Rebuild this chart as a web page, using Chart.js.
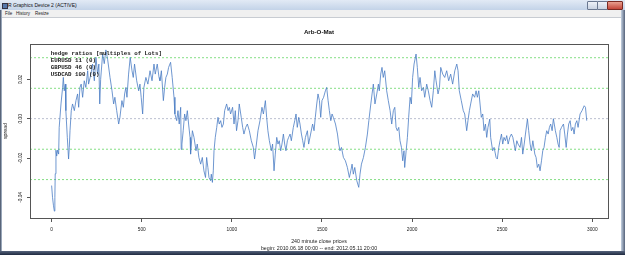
<!DOCTYPE html>
<html><head><meta charset="utf-8">
<script src="https://cdn.jsdelivr.net/npm/chart.js@4/dist/chart.umd.min.js"></script>
<style>
html,body{margin:0;padding:0;background:#fff;}
#wrap{position:relative;width:625px;height:255px;overflow:hidden;background:#fff;font-family:'Liberation Sans',Arial,sans-serif;}
#c{position:absolute;left:0;top:0;}
.tb{position:absolute;left:0;top:0;width:625px;height:10px;background:linear-gradient(#e2eaf5,#c3d3e8);}
.tbt{position:absolute;left:8px;top:2px;font-size:5px;line-height:6px;color:#111;white-space:nowrap;}
.ico{position:absolute;left:2px;top:3px;width:4px;height:4px;background:#5577aa;border:1px solid #334;}
.btn{position:absolute;top:1px;height:7px;border:1px solid #6a7890;border-radius:1px;background:linear-gradient(#eef2f8,#c9d3e2);}
.mb{position:absolute;left:0;top:10px;width:625px;height:7px;background:#f0f0f0;border-bottom:1px solid #c8ccd2;}
.mbt{position:absolute;top:1px;font-size:4.5px;line-height:5px;color:#222;}
.lb{position:absolute;left:0;top:10px;width:2px;height:245px;background:linear-gradient(90deg,#39455a,#b8c6d8);}
.rb{position:absolute;right:0;top:10px;width:4px;height:245px;background:linear-gradient(90deg,#c5d2e2,#55627a);}
.bb{position:absolute;left:0;top:251px;width:625px;height:4px;background:linear-gradient(#56637c,#1f2a40);}
</style></head>
<body>
<div id="wrap">
<canvas id="c" width="625" height="255"></canvas>
<div class="tb"><div class="ico"></div><div class="tbt">R Graphics Device 2 (ACTIVE)</div>
<div class="btn" style="left:587px;width:9px"></div><div class="btn" style="left:597px;width:9px"></div>
<div class="btn" style="left:607px;width:14px;background:linear-gradient(#e8a090,#c4473a);border-color:#7a2a22"></div></div>
<div class="mb"><span class="mbt" style="left:5px">File</span><span class="mbt" style="left:16px">History</span><span class="mbt" style="left:35px">Resize</span></div>
<div class="lb"></div><div class="rb"></div><div class="bb"></div>
</div>
<script>
// ---- data ----
const chartTitle = 'Arb-O-Mat';
const yAxisTitle = 'spread';
const xAxisTitle = ['240 minute close prices', 'begin: 2010.06.18 00:00 -- end: 2012.05.11 20:00'];
const legendLines = ['hedge ratios [multiples of Lots]', 'EURUSD 11 (0)', 'GBPUSD 46 (0)', 'USDCAD 100 (0)'];
const xTicks = [0, 500, 1000, 1500, 2000, 2500, 3000];
const yTicks = [-0.04, -0.02, 0.00, 0.02];
const yTickLabels = ['-0.04', '-0.02', '0.00', '0.02'];
const bandLevels = [0.031, 0.0155, -0.0155, -0.031];
const zeroLevel = [0];
const barIndex = [0,5,10,15,18,20,24,28,33,39,42,52,61,65,70,76,79,87,94,98,102,109,116,126,135,144,150,157,164,172,181,190,200,205,218,227,237,246,255,262,267,272,283,292,301,311,324,335,344,351,361,372,379,390,398,405,412,418,427,436,446,453,460,472,483,490,497,505,512,523,534,546,557,568,575,
586,596,601,609,620,627,634,642,649,660,669,679,684,694,701,708,716,719,723,730,738,745,753,760,768,771,781,790,801,808,817,827,836,845,854,860,867,873,882,886,892,897,901,908,916,923,930,938,945,953,960,971,979,986,993,1004,1012,1019,1026,1034,1041,1052,1060,1067,1077,1086,1097,1108,1119,1126,1134,1145,1156,1167,1175,
1186,1193,1200,1208,1219,1226,1234,1241,1249,1256,1263,1271,1278,1286,1293,1300,1308,1315,1323,1330,1341,1349,1356,1363,1371,1378,1386,1393,1400,1408,1419,1426,1437,1448,1456,1463,1471,1478,1486,1493,1500,1509,1519,1526,1534,1541,1549,1556,1563,1575,1586,1593,1600,1608,1619,1630,1641,1652,1660,1667,1674,1682,1693,1704,1711,1719,1730,1741,1752,1760,1771,1778,
1785,1794,1804,1813,1818,1826,1833,1840,1848,1859,1868,1878,1887,1896,1904,1911,1918,1926,1933,1941,1948,1955,1959,1967,1974,1981,1989,1996,2003,2011,2022,2029,2037,2044,2053,2063,2070,2081,2090,2100,2109,2118,2126,2133,2144,2152,2159,2170,2181,2192,2203,2214,2225,2237,2248,2255,2262,2273,2284,2292,2303,2310,2318,2325,2336,2347,2355,2362,2370,2377,
2384,2392,2399,2407,2414,2421,2431,2436,2447,2455,2466,2473,2481,2488,2496,2503,2510,2518,2525,2533,2542,2551,2559,2566,2573,2581,2588,2599,2607,2614,2622,2629,2640,2647,2655,2662,2670,2681,2688,2695,2703,2710,2718,2725,2732,2740,2747,2755,2762,2769,2777,2784,2795,2803,2810,2816,2821,2829,2840,2847,2855,2862,2869,2877,2884,2892,2899,2906,2914,2921,2932,2943,2955,2962,2969];
const spread = [-0.034,-0.040,-0.044,-0.047,-0.040,-0.028,-0.016,-0.019,-0.016,-0.018,-0.0044,0.0075,0.0159,0.021,0.0142,0.0176,0.0041,-0.0095,-0.0205,-0.0146,-0.0061,0.0041,0.0075,0.0041,0.0092,0.0126,0.0058,0.0159,0.0176,0.0109,0.0193,0.0159,0.0244,0.0176,0.0227,0.0278,0.0193,0.0312,0.0227,0.0278,0.0075,0.020,0.0329,0.028,0.035,0.030,0.021,0.0142,0.0075,0.0109,0.0041,-0.0027,0.0007,0.0092,0.0058,0.0126,0.0159,0.0109,0.0227,0.0312,0.0244,0.021,0.0278,0.0193,0.0142,0.0176,0.0109,0.0024,0.0159,0.021,0.0176,0.0244,0.0193,0.0278,0.0227,
0.0278,0.021,0.0193,0.0244,0.0092,0.0159,0.021,0.0227,0.0261,0.0287,0.021,0.0109,0.0024,-0.001,0.0041,-0.0027,0.0058,-0.0156,-0.0129,-0.0061,0.0024,-0.001,0.0041,-0.0027,-0.0095,-0.018,-0.0061,-0.0095,-0.0163,-0.0129,-0.0197,-0.0231,-0.0197,-0.0265,-0.0299,-0.0197,-0.0248,-0.0299,-0.0315,-0.0282,-0.0324,-0.0265,-0.0163,-0.0095,-0.0044,0.0007,-0.0027,-0.001,-0.0044,-0.0027,0.0041,0.0075,0.0041,0.0058,0.0024,0.0058,-0.0027,0.0041,-0.0061,-0.001,0.0075,0.0007,-0.0044,-0.0078,-0.0044,-0.0027,-0.0061,-0.0112,-0.0146,-0.0205,-0.0146,-0.0061,-0.001,0.0058,0.0024,
0.0092,0.0007,-0.0061,-0.0112,-0.0163,-0.0129,-0.0265,-0.018,-0.0095,-0.0129,-0.0112,-0.0163,-0.0129,-0.0078,-0.0129,-0.0163,-0.0112,-0.0095,-0.0078,-0.0112,-0.0044,-0.001,0.0024,-0.0044,0.0007,-0.0027,-0.0078,-0.0112,-0.0146,-0.0095,-0.0061,-0.0129,-0.0078,-0.0027,-0.0061,0.0007,0.0075,0.0126,0.0092,0.0007,0.0092,0.0109,0.0142,0.0159,0.0092,0.0041,-0.001,0.0024,0.0007,-0.0027,-0.0078,-0.0129,-0.0163,-0.0146,-0.0197,-0.0214,-0.0248,-0.0299,-0.0265,-0.0231,-0.0282,-0.0248,-0.0315,-0.0349,-0.0282,-0.0231,-0.0197,-0.0146,-0.0078,-0.001,0.0075,0.0126,
0.0176,0.0075,0.0126,0.0176,0.0142,0.0227,0.0261,0.021,0.0244,0.0142,0.0092,0.0041,-0.0027,0.0041,0.0058,-0.0044,-0.0061,-0.0044,-0.0112,-0.0146,-0.0214,-0.0163,-0.0248,-0.0163,-0.0095,0.0007,0.0109,0.0075,0.021,0.0278,0.0329,0.0261,0.0159,0.021,0.0142,0.0159,0.0109,0.0176,0.0142,0.0092,0.0058,0.0142,0.0244,0.0193,0.0126,0.0159,0.0261,0.0227,0.021,0.0244,0.0193,0.0227,0.0176,0.0244,0.0278,0.0244,0.0142,0.0092,0.0041,0.0024,-0.0061,-0.001,0.0041,0.0075,0.0126,0.0109,0.0142,0.0109,0.0142,0.0075,
0.0007,0.0024,-0.0061,-0.0027,-0.0095,-0.0044,-0.0002,-0.0095,-0.0163,-0.0146,-0.0197,-0.0205,-0.0146,-0.0112,-0.0078,-0.0129,-0.0095,-0.0112,-0.0086,-0.0129,-0.0095,-0.0078,-0.0095,-0.0129,-0.0163,-0.0112,-0.0129,-0.0146,-0.0095,-0.018,-0.0129,-0.0078,-0.0002,-0.0061,-0.0129,-0.0163,-0.0112,-0.018,-0.0197,-0.0248,-0.0231,-0.0265,-0.0214,-0.0163,-0.0146,-0.0095,-0.0061,-0.0078,-0.0044,-0.0027,-0.0061,0.0000,-0.0061,-0.0095,-0.0129,-0.0146,-0.0061,-0.0044,-0.0027,-0.0078,-0.0146,-0.0078,-0.0027,-0.001,-0.0061,-0.0044,-0.0078,-0.0027,-0.001,-0.0044,0.0024,0.0041,0.0066,0.0058,-0.001];

// ---- chart ----
const X_MIN = -120, X_MAX = 3087, Y_MIN = -0.0505, Y_MAX = 0.038;
const seriesPoints = barIndex.map((x, i) => ({x: x, y: spread[i]}));
const hLine = (v) => [{x: X_MIN, y: v}, {x: X_MAX, y: v}];
const datasets = [{
  data: seriesPoints, borderColor: '#4a7cc4', borderWidth: 0.8, pointRadius: 0, showLine: true, tension: 0
}];
bandLevels.forEach(v => datasets.push({data: hLine(v), borderColor: '#66d666', borderWidth: 0.8, borderDash: [2, 2], pointRadius: 0, showLine: true}));
zeroLevel.forEach(v => datasets.push({data: hLine(v), borderColor: '#aab0c4', borderWidth: 0.8, borderDash: [2, 2], pointRadius: 0, showLine: true}));

const framePlugin = {
  id: 'frameAndLegend',
  afterDatasetsDraw(chart) {
    const {ctx, chartArea: a} = chart;
    ctx.save();
    ctx.strokeStyle = '#555';
    ctx.lineWidth = 1;
    ctx.strokeRect(Math.round(a.left) + 0.5, Math.round(a.top) + 0.5, Math.round(a.right - a.left), Math.round(a.bottom - a.top));
    ctx.font = 'bold 5.8px "Liberation Mono", monospace';
    ctx.fillStyle = '#222';
    ctx.textBaseline = 'middle';
    legendLines.forEach((t, i) => ctx.fillText(t, a.left + 20.7, a.top + 10 + i * 6.7));
    ctx.restore();
  }
};

new Chart(document.getElementById('c'), {
  type: 'scatter',
  data: {datasets: datasets},
  plugins: [framePlugin],
  options: {
    responsive: false, animation: false, devicePixelRatio: 1,
    layout: {padding: {left: 0, right: 17, top: 19, bottom: 0}},
    plugins: {
      legend: {display: false}, tooltip: {enabled: false},
      title: {display: true, text: chartTitle, fullSize: false, color: '#111',
        font: {family: "'Liberation Sans', Arial, sans-serif", size: 6.2, weight: 'bold', lineHeight: 1.2},
        padding: {top: 9.6, bottom: 7.96}}
    },
    scales: {
      x: {
        type: 'linear', min: X_MIN, max: X_MAX,
        afterBuildTicks: (s) => { s.ticks = xTicks.map(v => ({value: v})); },
        afterFit: (s) => { s.height = 37; },
        grid: {display: true, drawOnChartArea: false, tickLength: 4, color: '#555'},
        border: {display: false},
        ticks: {color: '#222', padding: 4.5, maxRotation: 0, font: {family: "'Liberation Sans', Arial, sans-serif", size: 4.8},
          callback: (v) => String(v)},
        title: {display: true, text: xAxisTitle, color: '#222', padding: {top: 0, bottom: 3.2},
          font: {family: "'Liberation Sans', Arial, sans-serif", size: 5.3, lineHeight: 1.32}}
      },
      y: {
        type: 'linear', min: Y_MIN, max: Y_MAX,
        afterBuildTicks: (s) => { s.ticks = yTicks.map(v => ({value: v})); },
        afterFit: (s) => { s.width = 30; },
        grid: {display: true, drawOnChartArea: false, tickLength: 3, color: '#555'},
        border: {display: false},
        ticks: {color: '#222', padding: 1, minRotation: 90, maxRotation: 90, crossAlign: 'center',
          font: {family: "'Liberation Sans', Arial, sans-serif", size: 4.8},
          callback: (v) => { const i = yTicks.indexOf(v); return i >= 0 ? yTickLabels[i] : ''; }},
        title: {display: true, text: yAxisTitle, color: '#222', padding: {top: 2.1, bottom: 0},
          font: {family: "'Liberation Sans', Arial, sans-serif", size: 5.3}}
      }
    }
  }
});
</script>
</body></html>
